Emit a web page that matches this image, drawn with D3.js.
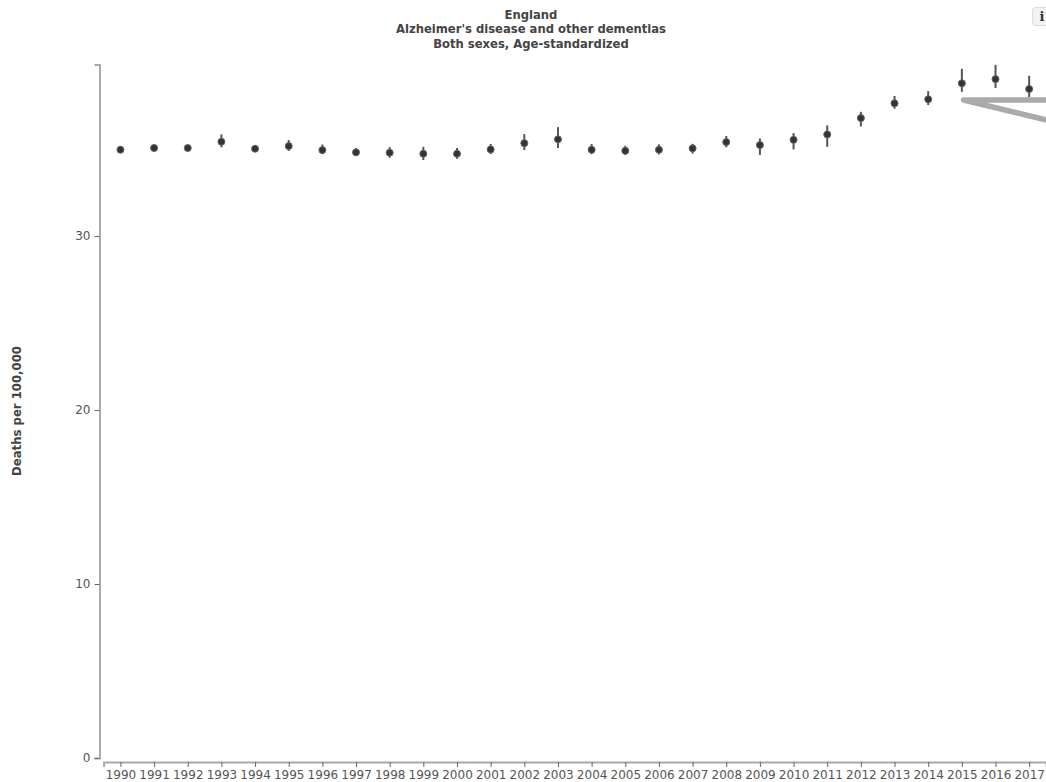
<!DOCTYPE html>
<html>
<head>
<meta charset="utf-8">
<script src="https://cdn.jsdelivr.net/npm/d3@7"></script>
<style>
  html, body { margin: 0; padding: 0; background: #fff; overflow: hidden; }
  svg { display: block; font-family: "DejaVu Sans", sans-serif; }
  .axis path { stroke: #aaa; stroke-width: 2; }
  .axis line { stroke: #666; }
  .axis text { fill: #555; font-size: 12px; font-family: "DejaVu Sans", sans-serif; }
</style>
</head>
<body>
<div id="chart"></div>
<script>
// values
const years = d3.range(1990, 2018);
const mean = [34.96, 35.06, 35.06, 35.42, 35.02, 35.17, 34.94, 34.81, 34.79, 34.73, 34.73, 34.98, 35.34, 35.56,
    34.96, 34.90, 34.96, 35.04, 35.40, 35.23, 35.53, 35.84, 36.78, 37.63, 37.86, 38.78, 39.02, 38.45];
const upper = [35.15, 35.24, 35.22, 35.84, 35.2, 35.52, 35.26, 35.06, 35.11, 35.13, 35.06, 35.29, 35.86, 36.26,
    35.29, 35.19, 35.27, 35.30, 35.75, 35.61, 35.92, 36.36, 37.14, 38.05, 38.33, 39.61, 39.84, 39.21];
const lower = [34.8, 34.88, 34.88, 35.10, 34.84, 34.89, 34.71, 34.6, 34.5, 34.37, 34.44, 34.71, 34.94, 35.06,
    34.71, 34.66, 34.69, 34.74, 35.10, 34.66, 34.98, 35.13, 36.30, 37.32, 37.53, 38.29, 38.51, 37.97];
const yTicks = [0, 10, 20, 30];
const titleLines = ["England", "Alzheimer's disease and other dementias", "Both sexes, Age-standardized"];

// the grey wedge that runs off the right edge
const wedgeYears = [2018, 2015.05, 2018];
const wedgeValues = [37.82, 37.82, 36.44];

const width = 1046,
    height = 782,
    margin = ({ top: 64.5, right: 0, bottom: 24, left: 99.5 });

const svg = d3.select("#chart")
    .append("svg")
    .attr("width", width)
    .attr("height", height)
    .attr("viewBox", [0, 0, width, height]);

let x = d3.scaleLinear()
    .domain([1989.5, 2017.5])
    .range([103.6, width]);

let y = d3.scaleLinear()
    .domain([0, 39.86])
    .range([height - margin.bottom, margin.top]);

// x axis sits a little below the y axis
svg.append("g")
    .attr("class", "axis")
    .attr("transform", "translate(0,762)")
    .call(d3.axisBottom(x).tickValues(years).tickFormat(d3.format("d")).tickSize(5).tickSizeOuter(5).tickPadding(3));

svg.append("g")
    .attr("class", "axis")
    .attr("transform", `translate(${margin.left},0)`)
    .call(d3.axisLeft(y).tickValues(yTicks).tickSize(5).tickSizeOuter(5).tickPadding(4));

svg.append("text")
    .attr("transform", "translate(20.5,411) rotate(-90)")
    .attr("text-anchor", "middle")
    .attr("font-size", 11.7)
    .attr("font-weight", "bold")
    .attr("fill", "#444")
    .text("Deaths per 100,000");

svg.append("g")
    .selectAll("text")
    .data(titleLines)
    .join("text")
    .attr("x", 531)
    .attr("y", (d, i) => 18.5 + i * 14.5)
    .attr("text-anchor", "middle")
    .attr("font-size", 11.6)
    .attr("font-weight", "bold")
    .attr("fill", "#444")
    .text(d => d);

// error bars
svg.append("g")
    .selectAll("line")
    .data(years)
    .join("line")
    .attr("x1", d => x(d))
    .attr("x2", d => x(d))
    .attr("y1", (d, i) => y(upper[i]))
    .attr("y2", (d, i) => y(lower[i]))
    .attr("stroke", "#555")
    .attr("stroke-width", 2);

svg.append("g")
    .selectAll("circle")
    .data(years)
    .join("circle")
    .attr("cx", d => x(d))
    .attr("cy", (d, i) => y(mean[i]))
    .attr("r", 3.5)
    .attr("fill", "#333")
    .attr("stroke", "#666")
    .attr("stroke-width", 1);

let wedge = d3.line()
    .x((d, i) => x(wedgeYears[i]))
    .y(d => y(d));

svg.append("path")
    .attr("d", wedge(wedgeValues))
    .attr("fill", "none")
    .attr("stroke", "#aaa")
    .attr("stroke-width", 5.5)
    .attr("stroke-linecap", "round")
    .attr("stroke-linejoin", "round");

// info button, cut by the window edge
svg.append("rect")
    .attr("x", 1032.5)
    .attr("y", 7.5)
    .attr("width", 30)
    .attr("height", 18)
    .attr("rx", 3)
    .attr("fill", "#f2f2f2")
    .attr("stroke", "#ddd");

svg.append("text")
    .attr("x", 1042)
    .attr("y", 21)
    .attr("text-anchor", "middle")
    .attr("font-family", "DejaVu Serif, serif")
    .attr("font-size", 13)
    .attr("font-weight", "bold")
    .attr("fill", "#333")
    .text("i");
</script>
</body>
</html>
